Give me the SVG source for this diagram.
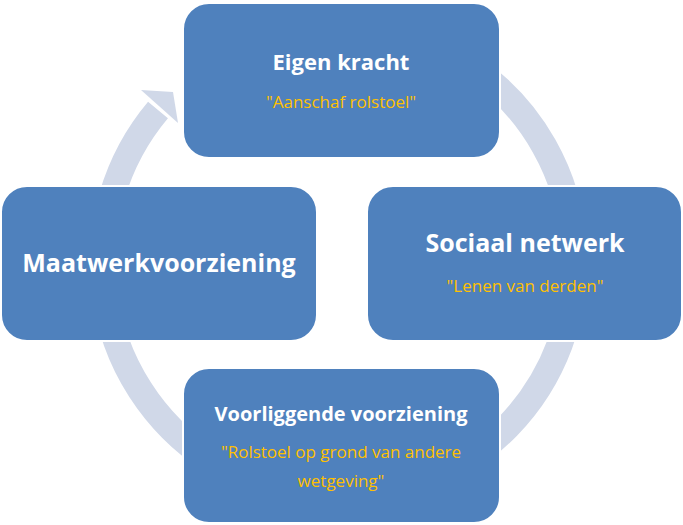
<svg xmlns="http://www.w3.org/2000/svg" width="683" height="525" viewBox="0 0 683 525">
<style>
.box{fill:#4F81BD;stroke:#FFFFFF;stroke-width:2}
.t{font-family:"Open Sans","Liberation Sans",sans-serif;fill:#FFFFFF;font-weight:bold;text-anchor:middle}
.q{font-family:"Open Sans","Liberation Sans",sans-serif;fill:#FFC000;text-anchor:middle;font-size:17px}
</style>
<rect width="683" height="525" fill="#FFFFFF"/>
<g id="connectors">
<path d="M382 30 A236 236 0 1 1 158 110" fill="none" stroke="#D0D8E8" stroke-width="26"/>
<polygon points="141,90 173,92 178,123" fill="#D0D8E8"/>
</g>
<g id="n1"><rect class="box" x="183" y="3" width="317" height="155" rx="26"/>
<text class="t" x="341" y="70" font-size="22">Eigen kracht</text>
<text class="q" x="341" y="108">"Aanschaf rolstoel"</text></g>
<g id="n2"><rect class="box" x="367" y="186" width="315" height="155" rx="26"/>
<text class="t" x="525" y="252" font-size="25">Sociaal netwerk</text>
<text class="q" x="525" y="292">"Lenen van derden"</text></g>
<g id="n3"><rect class="box" x="183" y="368" width="317" height="155" rx="26"/>
<text class="t" x="341" y="421" font-size="20">Voorliggende voorziening</text>
<text class="q" x="341" y="458">"Rolstoel op grond van andere</text>
<text class="q" x="341" y="487">wetgeving"</text></g>
<g id="n4"><rect class="box" x="1" y="186" width="316" height="155" rx="26"/>
<text class="t" x="159" y="272" font-size="25">Maatwerkvoorziening</text></g>
</svg>
